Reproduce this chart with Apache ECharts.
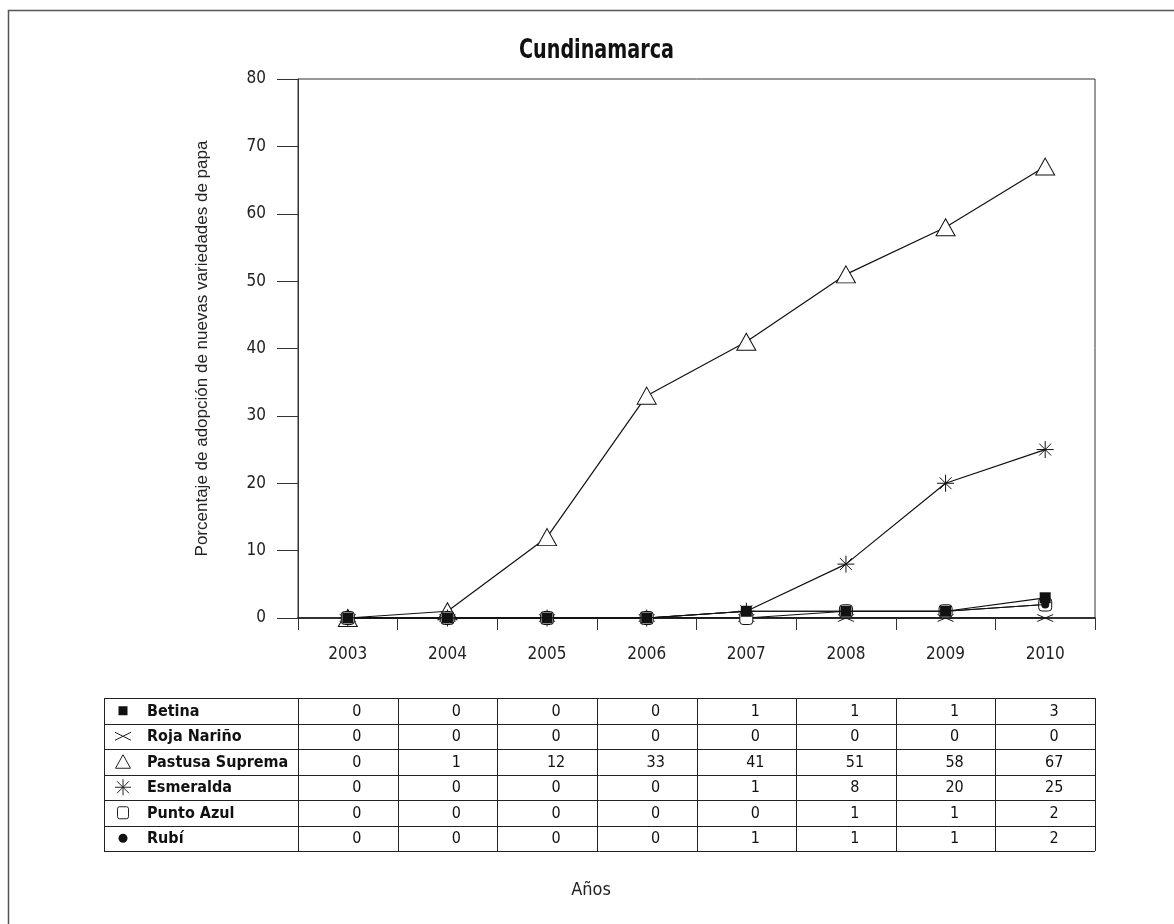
<!DOCTYPE html>
<html><head><meta charset="utf-8">
<script src="https://cdn.jsdelivr.net/npm/echarts@6/dist/echarts.min.js"></script>
<style>html,body{margin:0;padding:0;background:#fff}#c{width:1174px;height:924px}</style>
</head><body><div id="c"></div>
<script>
const years = ['2003','2004','2005','2006','2007','2008','2009','2010'];
const seriesNames = ['Betina','Roja Nariño','Pastusa Suprema','Esmeralda','Punto Azul','Rubí'];
const betina = [0,0,0,0,1,1,1,3];
const rojaNarino = [0,0,0,0,0,0,0,0];
const pastusaSuprema = [0,1,12,33,41,51,58,67];
const esmeralda = [0,0,0,0,1,8,20,25];
const puntoAzul = [0,0,0,0,0,1,1,2];
const rubi = [0,0,0,0,1,1,1,2];
const yMin = 0, yMax = 80, yInterval = 10;

const NARROW = "'Liberation Sans Narrow','DejaVu Sans Condensed',sans-serif";
const REG = "'Liberation Sans',Arial,sans-serif";
const allValues = [betina, rojaNarino, pastusaSuprema, esmeralda, puntoAzul, rubi];

const ASTER = 'path://M10,0 L10,20 M0,10 L20,10 M3,3 L17,17 M17,3 L3,17';
const XMARK = 'path://M0,0 L20,8 M0,8 L20,0';
const symbolDefs = [
  {symbol:'rect', size:11, z:8, item:{color:'#111'}},
  {symbol:XMARK, size:[16,7], z:4, item:{color:'transparent', borderColor:'#111', borderWidth:1}},
  {symbol:'triangle', size:[19,17], z:2, item:{color:'#fff', borderColor:'#111', borderWidth:1}},
  {symbol:ASTER, size:17, z:3, item:{color:'transparent', borderColor:'#111', borderWidth:1}},
  {symbol:'roundRect', size:13, z:5, item:{color:'#fff', borderColor:'#111', borderWidth:1}},
  {symbol:'circle', size:8, z:6, item:{color:'#111'}}
];

const chart = echarts.init(document.getElementById('c'), null, {renderer:'canvas'});
const GL = 298, GR = 79, GT = 79, GB = 306;

const series = seriesNames.map((n,i)=>({
  name:n, type:'line', data:allValues[i],
  symbol:symbolDefs[i].symbol, symbolSize:symbolDefs[i].size,
  showAllSymbol:true,
  lineStyle:{color:'#111', width:1.2},
  itemStyle:symbolDefs[i].item,
  z: symbolDefs[i].z
}));

chart.setOption({
  animation:false,
  backgroundColor:'#fff',
  grid:{left:GL, right:GR, top:GT, bottom:GB, show:true, borderColor:'#333', borderWidth:1, containLabel:false},
  xAxis:{type:'category', data:years, boundaryGap:true,
    axisLine:{show:true, lineStyle:{color:'#111', width:1.5}},
    axisTick:{show:true, length:12, interval:0, lineStyle:{color:'#333'}},
    axisLabel:{margin:28, fontFamily:NARROW, fontSize:17, color:'#222'},
    splitLine:{show:false}},
  yAxis:{type:'value', min:yMin, max:yMax, interval:yInterval,
    name:'Porcentaje de adopción de nuevas variedades de papa',
    nameLocation:'middle', nameGap:87, nameRotate:90,
    nameTextStyle:{fontFamily:REG, fontSize:17, color:'#222'},
    axisLine:{show:true, lineStyle:{color:'#333'}},
    axisTick:{show:true, length:21, lineStyle:{color:'#333'}},
    axisLabel:{margin:32, fontFamily:NARROW, fontSize:17, color:'#222'},
    splitLine:{show:false}},
  series:series
});

// Build the data table below the chart from the arrays
function buildTable(){
  const els = [];
  const centers = years.map(y=>chart.convertToPixel({xAxisIndex:0}, y));
  const colW = centers.length>1 ? centers[1]-centers[0] : 100;
  const tLeft = 104, tTop = 698, rowH = 25.5;
  const firstColRight = centers[0]-colW/2;
  const tRight = centers[centers.length-1]+colW/2;
  const nRows = seriesNames.length;
  const tBottom = tTop + nRows*rowH;
  const stroke = {stroke:'#222', lineWidth:1};
  for(let r=0;r<=nRows;r++){
    const y = Math.round(tTop + r*rowH)+0.5;
    els.push({type:'line', shape:{x1:tLeft, y1:y, x2:tRight, y2:y}, style:stroke});
  }
  const xs = [tLeft, firstColRight].concat(centers.map(c=>c+colW/2));
  xs.forEach(x=>{ const xx=Math.round(x)+0.5;
    els.push({type:'line', shape:{x1:xx, y1:tTop, x2:xx, y2:tBottom}, style:stroke}); });
  const iconX = 123;
  seriesNames.forEach((n,r)=>{
    const cy = tTop + r*rowH + rowH/2;
    if(r===0) els.push({type:'rect', shape:{x:iconX-4.5, y:cy-4.5, width:9, height:9}, style:{fill:'#111'}});
    if(r===1){ els.push({type:'line', shape:{x1:iconX-8,y1:cy-4,x2:iconX+8,y2:cy+4}, style:stroke});
               els.push({type:'line', shape:{x1:iconX-8,y1:cy+4,x2:iconX+8,y2:cy-4}, style:stroke}); }
    if(r===2) els.push({type:'polygon', shape:{points:[[iconX,cy-7],[iconX+7.5,cy+6.5],[iconX-7.5,cy+6.5]]}, style:{fill:'#fff', stroke:'#222', lineWidth:1}});
    if(r===3){ [[0,-8,0,8],[-8,0,8,0],[-6,-6,6,6],[-6,6,6,-6]].forEach(s=>
        els.push({type:'line', shape:{x1:iconX+s[0],y1:cy+s[1],x2:iconX+s[2],y2:cy+s[3]}, style:stroke})); }
    if(r===4) els.push({type:'rect', shape:{x:iconX-5.5, y:cy-6, width:11, height:12, r:2}, style:{fill:'#fff', stroke:'#222', lineWidth:1}});
    if(r===5) els.push({type:'circle', shape:{cx:iconX, cy:cy, r:4.5}, style:{fill:'#111'}});
    els.push({type:'text', style:{text:n, x:147, y:cy+1, font:"bold 16px "+NARROW, fill:'#111',
      textAlign:'left', textVerticalAlign:'middle', align:'left', verticalAlign:'middle'}});
    allValues[r].forEach((v,c)=>{
      els.push({type:'text', style:{text:String(v), x:centers[c]+9, y:cy+1, font:"16px "+NARROW, fill:'#111',
        textAlign:'center', textVerticalAlign:'middle', align:'center', verticalAlign:'middle'}});
    });
  });
  // title (condensed look)
  els.push({type:'text', x:519, y:51, scaleX:0.82, scaleY:1,
    style:{text:'Cundinamarca', x:0, y:0, font:"bold 26px "+NARROW, fill:'#111',
    textAlign:'left', textVerticalAlign:'middle', align:'left', verticalAlign:'middle'}});
  els.push({type:'text', style:{text:'Años', x:591, y:890, font:"18px "+NARROW, fill:'#222',
    textAlign:'center', textVerticalAlign:'middle', align:'center', verticalAlign:'middle'}});
  // outer frame (top and left edges)
  els.push({type:'polyline', shape:{points:[[8.5,924],[8.5,10.5],[1174,10.5]]}, style:{stroke:'#555', lineWidth:1.5, fill:null}});
  chart.setOption({graphic:{elements:els}});
}
buildTable();
</script>
</body></html>
